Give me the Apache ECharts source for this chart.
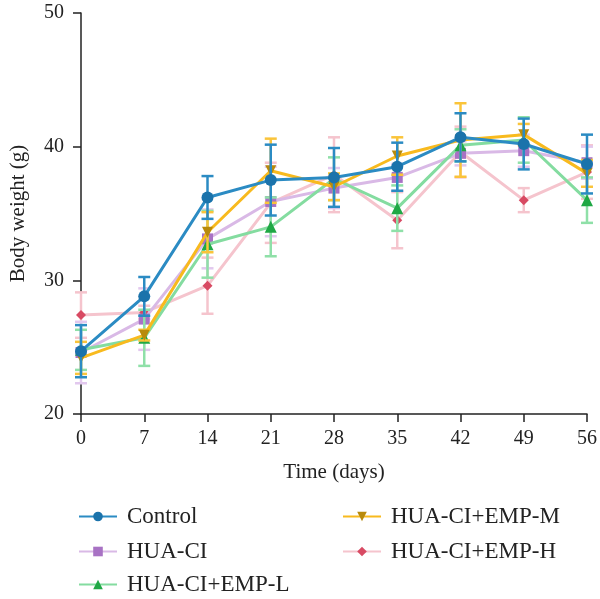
<!DOCTYPE html>
<html><head><meta charset="utf-8">
<script src="https://cdn.jsdelivr.net/npm/echarts@6/dist/echarts.min.js"></script>
<style>html,body{margin:0;padding:0;background:#fff}#c{width:600px;height:599px}</style>
</head><body><div id="c"></div>
<script>
const days = [0, 7, 14, 21, 28, 35, 42, 49, 56];
const names = ["Control", "HUA-CI", "HUA-CI+EMP-L", "HUA-CI+EMP-M", "HUA-CI+EMP-H"];
const controlMean = [24.7, 28.8, 36.2, 37.5, 37.7, 38.5, 40.7, 40.2, 38.7];
const controlErr  = [1.95, 1.45, 1.6, 2.65, 2.2, 1.8, 1.8, 1.9, 2.2];
const huaMean = [24.6, 27.1, 33.1, 35.9, 36.9, 37.7, 39.5, 39.7, 38.8];
const huaErr  = [2.3, 2.3, 2.2, 2.6, 1.5, 1.0, 0.9, 1.2, 1.2];
const empLMean = [24.8, 25.7, 32.7, 34.0, 37.6, 35.4, 40.1, 40.5, 36.0];
const empLErr  = [1.5, 2.1, 2.5, 2.2, 1.6, 1.7, 1.2, 1.7, 1.7];
const empMMean = [24.2, 25.9, 33.6, 38.2, 37.0, 39.3, 40.5, 40.9, 38.0];
const empMErr  = [1.2, 0.4, 1.5, 2.4, 1.0, 1.4, 2.75, 0.8, 1.0];
const empHMean = [27.4, 27.6, 29.6, 35.8, 37.9, 34.5, 39.6, 36.0, 38.1];
const empHErr  = [1.7, 0.5, 2.1, 3.0, 2.8, 2.1, 1.9, 0.9, 2.0];

const means = [controlMean, huaMean, empLMean, empMMean, empHMean];
const errs = [controlErr, huaErr, empLErr, empMErr, empHErr];
const lineColors = ["#2b8bc3", "#d9b9e6", "#84dca0", "#f8ba1e", "#f5c4cd"];
const markColors = ["#1b73ab", "#a872c4", "#1fa845", "#b88a0c", "#d84a63"];
const errColors  = ["#2b8bc3", "#e2c8ee", "#8fe0a8", "#fac43a", "#f5c4cd"];
const symbols = ["circle", "rect", "triangle", "path://M0,0 L10,0 L5,9 Z", "diamond"];
const symSizes = [12, 11, 12, 11, 10];
const drawOrder = [4, 1, 2, 3, 0];

const serif = "Liberation Serif";
const series = [];
drawOrder.forEach((i, k) => {
  series.push({
    type: 'custom', name: names[i] + ' err', z: 2 + k * 2,
    data: days.map((d, j) => [d, means[i][j] - errs[i][j], means[i][j] + errs[i][j]]),
    renderItem: function (params, api) {
      const x = api.value(0);
      const lo = api.coord([x, api.value(1)]);
      const hi = api.coord([x, api.value(2)]);
      const w = 6;
      const st = { stroke: errColors[i], lineWidth: 2.5 };
      return { type: 'group', children: [
        { type: 'line', shape: { x1: lo[0], y1: lo[1], x2: hi[0], y2: hi[1] }, style: st },
        { type: 'line', shape: { x1: lo[0] - w, y1: lo[1], x2: lo[0] + w, y2: lo[1] }, style: st },
        { type: 'line', shape: { x1: hi[0] - w, y1: hi[1], x2: hi[0] + w, y2: hi[1] }, style: st }
      ]};
    },
    silent: true, animation: false
  });
  series.push({
    type: 'line', name: names[i], z: 3 + k * 2,
    data: days.map((d, j) => [d, means[i][j]]),
    symbol: symbols[i], symbolSize: symSizes[i], showSymbol: true,
    lineStyle: { color: lineColors[i], width: 3 },
    itemStyle: { color: markColors[i], borderWidth: 0 },
    animation: false
  });
});

const legendPos = [[78, 517], [78, 552], [78, 585], [342, 517], [342, 552]];
const legends = names.map((n, i) => ({
  left: legendPos[i][0], top: legendPos[i][1] - 12, data: [n],
  itemWidth: 38, itemHeight: 12, itemGap: 0, padding: 0,
  textStyle: { fontFamily: serif, fontSize: 23, color: '#222', padding: [0, 0, 0, 5] },
  selectedMode: false
}));

const chart = echarts.init(document.getElementById('c'), null, { renderer: 'canvas' });
chart.setOption({
  animation: false,
  grid: { left: 80, right: 11, top: 13, bottom: 185, containLabel: false },
  xAxis: {
    type: 'value', min: 0, max: 56, interval: 7,
    name: 'Time (days)', nameLocation: 'middle', nameGap: 48,
    nameTextStyle: { fontFamily: serif, fontSize: 21, color: '#222' },
    axisLine: { lineStyle: { color: '#222', width: 1.5 } },
    axisTick: { lineStyle: { color: '#222', width: 1.5 }, length: 8 },
    axisLabel: { fontFamily: serif, fontSize: 20, color: '#222', margin: 15 },
    splitLine: { show: false }
  },
  yAxis: {
    type: 'value', min: 20, max: 50, interval: 10,
    name: 'Body weight (g)', nameLocation: 'middle', nameGap: 52,
    nameTextStyle: { fontFamily: serif, fontSize: 21, color: '#222' },
    axisLine: { show: true, lineStyle: { color: '#222', width: 1.5 } },
    axisTick: { show: true, lineStyle: { color: '#222', width: 1.5 }, length: 8 },
    axisLabel: { fontFamily: serif, fontSize: 20, color: '#222', margin: 17 },
    splitLine: { show: false }
  },
  legend: legends,
  series: series
});
</script></body></html>
